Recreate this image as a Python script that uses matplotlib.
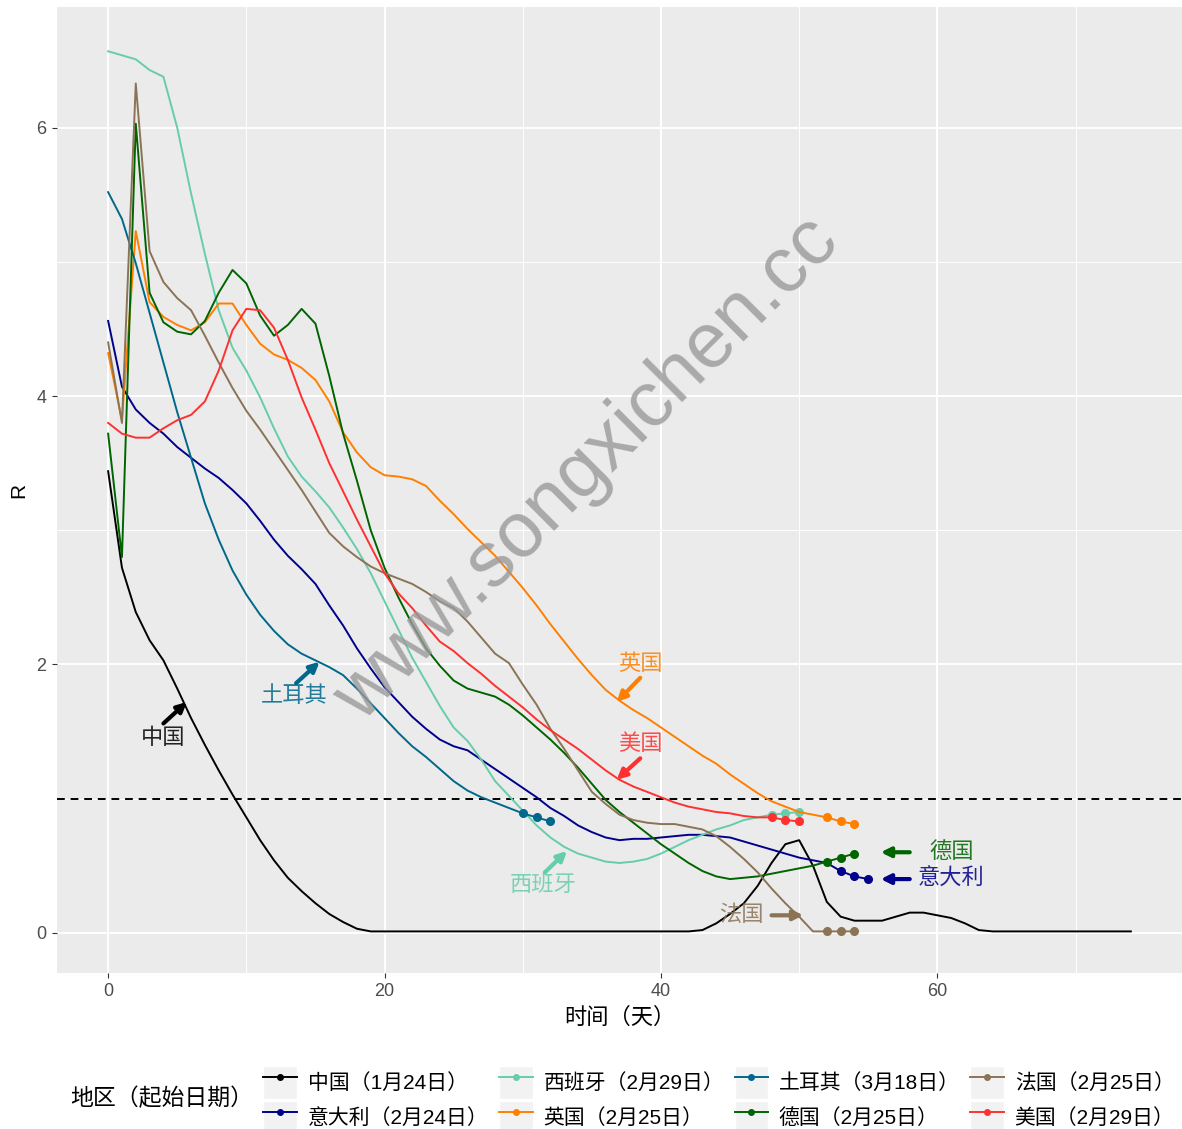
import matplotlib
matplotlib.use('Agg')
import matplotlib.pyplot as plt
from matplotlib.lines import Line2D
from matplotlib.patches import Rectangle
from matplotlib.legend_handler import HandlerLine2D

plt.rcParams['font.family'] = ['Liberation Sans', 'Noto Sans CJK SC', 'DejaVu Sans']

# 地区（图例顺序，按列排）
regions = ['中国（1月24日）', '意大利（2月24日）', '西班牙（2月29日）', '英国（2月25日）',
           '土耳其（3月18日）', '德国（2月25日）', '法国（2月25日）', '美国（2月29日）']
colors = ['#000000', '#00008B', '#66CDAA', '#FF7F00',
          '#00688B', '#006400', '#8B7355', '#FF3030']

# R值，从起始日期开始每天一个
r_china = [3.44, 2.72, 2.39, 2.18, 2.03, 1.82, 1.60, 1.40, 1.21, 1.03,
           0.86, 0.69, 0.54, 0.41, 0.31, 0.22, 0.14, 0.08, 0.03, 0.01,
           0.01, 0.01, 0.01, 0.01, 0.01, 0.01, 0.01, 0.01, 0.01, 0.01,
           0.01, 0.01, 0.01, 0.01, 0.01, 0.01, 0.01, 0.01, 0.01, 0.01,
           0.01, 0.01, 0.01, 0.02, 0.07, 0.14, 0.22, 0.35, 0.52, 0.66,
           0.69, 0.50, 0.23, 0.12, 0.09, 0.09, 0.09, 0.12, 0.15, 0.15,
           0.13, 0.11, 0.07, 0.02, 0.01, 0.01, 0.01, 0.01, 0.01, 0.01,
           0.01, 0.01, 0.01, 0.01, 0.01]
r_italy = [4.56, 4.07, 3.90, 3.80, 3.72, 3.62, 3.54, 3.46, 3.39, 3.30,
           3.20, 3.07, 2.93, 2.81, 2.71, 2.60, 2.44, 2.29, 2.12, 1.97,
           1.83, 1.72, 1.61, 1.52, 1.44, 1.39, 1.36, 1.29, 1.22, 1.15,
           1.08, 1.01, 0.93, 0.87, 0.80, 0.75, 0.71, 0.69, 0.70, 0.70,
           0.71, 0.72, 0.73, 0.73, 0.72, 0.71, 0.68, 0.65, 0.62, 0.59,
           0.56, 0.54, 0.52, 0.46, 0.42, 0.40]
r_spain = [6.57, 6.54, 6.51, 6.43, 6.38, 6.00, 5.51, 5.06, 4.64, 4.36,
           4.19, 3.99, 3.76, 3.55, 3.40, 3.29, 3.17, 3.02, 2.86, 2.68,
           2.47, 2.26, 2.05, 1.87, 1.69, 1.53, 1.43, 1.29, 1.13, 1.02,
           0.91, 0.80, 0.71, 0.64, 0.59, 0.56, 0.53, 0.52, 0.53, 0.55,
           0.59, 0.64, 0.69, 0.73, 0.77, 0.80, 0.84, 0.86, 0.88, 0.89,
           0.90]
r_uk = [4.32, 3.82, 5.23, 4.70, 4.59, 4.53, 4.49, 4.55, 4.69, 4.69,
        4.53, 4.39, 4.31, 4.27, 4.21, 4.12, 3.96, 3.73, 3.58, 3.47,
        3.41, 3.40, 3.38, 3.33, 3.22, 3.12, 3.01, 2.91, 2.81, 2.69,
        2.57, 2.44, 2.30, 2.17, 2.04, 1.92, 1.81, 1.73, 1.66, 1.60,
        1.53, 1.46, 1.39, 1.32, 1.26, 1.18, 1.11, 1.04, 0.98, 0.94,
        0.90, 0.88, 0.86, 0.83, 0.81]
r_turkey = [5.52, 5.32, 4.99, 4.62, 4.25, 3.88, 3.54, 3.20, 2.93, 2.70,
            2.52, 2.37, 2.25, 2.15, 2.08, 2.03, 1.98, 1.92, 1.82, 1.71,
            1.60, 1.49, 1.39, 1.31, 1.22, 1.13, 1.06, 1.01, 0.97, 0.93,
            0.89, 0.86, 0.83]
r_germany = [3.72, 2.80, 6.03, 4.77, 4.55, 4.48, 4.46, 4.56, 4.77, 4.94,
             4.84, 4.60, 4.45, 4.53, 4.65, 4.54, 4.15, 3.72, 3.37, 3.00,
             2.72, 2.50, 2.30, 2.12, 1.99, 1.88, 1.82, 1.79, 1.76, 1.70,
             1.62, 1.53, 1.44, 1.34, 1.23, 1.11, 0.99, 0.90, 0.82, 0.74,
             0.66, 0.59, 0.52, 0.46, 0.42, 0.40, 0.41, 0.42, 0.44, 0.46,
             0.48, 0.50, 0.53, 0.56, 0.59]
r_france = [4.40, 3.80, 6.33, 5.08, 4.85, 4.73, 4.64, 4.45, 4.25, 4.06,
            3.89, 3.75, 3.60, 3.45, 3.30, 3.14, 2.98, 2.88, 2.80, 2.73,
            2.68, 2.64, 2.60, 2.54, 2.47, 2.42, 2.32, 2.20, 2.08, 2.01,
            1.85, 1.70, 1.52, 1.37, 1.21, 1.05, 0.96, 0.88, 0.84, 0.82,
            0.81, 0.81, 0.79, 0.77, 0.72, 0.64, 0.55, 0.45, 0.33, 0.22,
            0.12, 0.01, 0.01, 0.01, 0.01]
r_usa = [3.80, 3.72, 3.69, 3.69, 3.76, 3.82, 3.86, 3.96, 4.19, 4.49,
         4.65, 4.64, 4.51, 4.27, 3.99, 3.75, 3.50, 3.29, 3.08, 2.88,
         2.68, 2.53, 2.42, 2.29, 2.17, 2.10, 2.01, 1.93, 1.84, 1.76,
         1.68, 1.59, 1.51, 1.44, 1.37, 1.29, 1.21, 1.14, 1.09, 1.05,
         1.01, 0.97, 0.94, 0.92, 0.90, 0.89, 0.87, 0.86, 0.86, 0.84,
         0.83]

series = [r_china, r_italy, r_spain, r_uk, r_turkey, r_germany, r_france, r_usa]
# 最后几天标点（中国没有）
n_dots = [0, 3, 3, 3, 3, 3, 3, 3]

# 标注: 文字, 文字位置, 箭头尾, 箭头头, 颜色序号
notes = [('中国', (4.0, 1.45), (4.0, 1.56), (5.7, 1.72), 0),
         ('土耳其', (13.5, 1.76), (13.6, 1.86), (15.3, 2.02), 4),
         ('英国', (38.5, 2.0), (38.5, 1.90), (36.8, 1.72), 3),
         ('美国', (38.5, 1.40), (38.5, 1.30), (36.8, 1.14), 7),
         ('西班牙', (31.5, 0.35), (31.6, 0.45), (33.2, 0.61), 2),
         ('法国', (45.8, 0.13), (48.0, 0.13), (50.3, 0.13), 6),
         ('德国', (61.0, 0.60), (58.0, 0.60), (55.9, 0.60), 5),
         ('意大利', (61.0, 0.40), (58.0, 0.40), (55.9, 0.40), 1)]


class KeyHandler(HandlerLine2D):
    # ggplot风格的灰色图例格子
    def create_artists(self, legend, orig_handle, xdescent, ydescent,
                       width, height, fontsize, trans):
        bg = Rectangle((-xdescent, -ydescent), width, height, facecolor='#F2F2F2',
                       edgecolor='white', lw=1, transform=trans)
        arts = super().create_artists(legend, orig_handle, xdescent, ydescent,
                                      width, height, fontsize, trans)
        return [bg] + arts


fig = plt.figure(figsize=(11.82, 11.29), dpi=100)
ax = fig.add_axes([57 / 1182, 1 - 973 / 1129, 1125 / 1182, 966 / 1129])
ax.set_facecolor('#EBEBEB')

for vals, col, nd in zip(series, colors, n_dots):
    days = list(range(len(vals)))
    ax.plot(days, vals, color=col, lw=1.4, zorder=3)
    if nd:
        ax.plot(days[-nd:], vals[-nd:], 'o', color=col, ms=5.5, zorder=3)

ax.axhline(1, color='black', ls=(0, (4, 3)), lw=1.4, zorder=2)

for label, tpos, tail, head, ci in notes:
    ax.annotate('', xy=head, xytext=tail,
                arrowprops=dict(arrowstyle='-|>', color=colors[ci], lw=3,
                                mutation_scale=14, shrinkA=0, shrinkB=0), zorder=4)
    ax.text(tpos[0], tpos[1], label, color=colors[ci], alpha=0.85, fontsize=16,
            ha='center', va='center', zorder=4)

# 水印
ax.text(0.471, 0.521, 'www.songxichen.cc', transform=ax.transAxes, rotation=45,
        fontsize=56, color='#999999', alpha=0.8, ha='center', va='center', zorder=10)

ax.set_xlim(-3.7, 77.7)
ax.set_ylim(-0.3, 6.9)
ax.set_xticks([0, 20, 40, 60])
ax.set_xticks([10, 30, 50, 70], minor=True)
ax.set_yticks([0, 2, 4, 6])
ax.set_yticks([1, 3, 5], minor=True)
ax.grid(which='major', color='white', lw=1.4)
ax.grid(which='minor', color='white', lw=0.7)
ax.set_axisbelow(True)
for s in ax.spines.values():
    s.set_visible(False)
ax.tick_params(which='major', length=3.5, color='#333333', labelcolor='#4D4D4D',
               labelsize=13, pad=4)
ax.tick_params(which='minor', length=0)
ax.set_xlabel('时间（天）', fontsize=16, labelpad=5)
ax.set_ylabel('R', fontsize=15, labelpad=6)

handles = [Line2D([], [], color=c, lw=1.4, marker='o', ms=4) for c in colors]
fig.legend(handles, regions, ncol=4, loc='center left',
           bbox_to_anchor=(253 / 1182, 1 - 1100 / 1129), frameon=False,
           fontsize=15, handlelength=1.63, handleheight=2.13, handletextpad=0.5,
           columnspacing=0.5, labelspacing=0.05, borderpad=0,
           handler_map={Line2D: KeyHandler(numpoints=1)})
fig.text(70 / 1182, 1 - 1099 / 1129, '地区（起始日期）', fontsize=16.5, ha='left', va='center')

fig.savefig('out.png', dpi=100)
